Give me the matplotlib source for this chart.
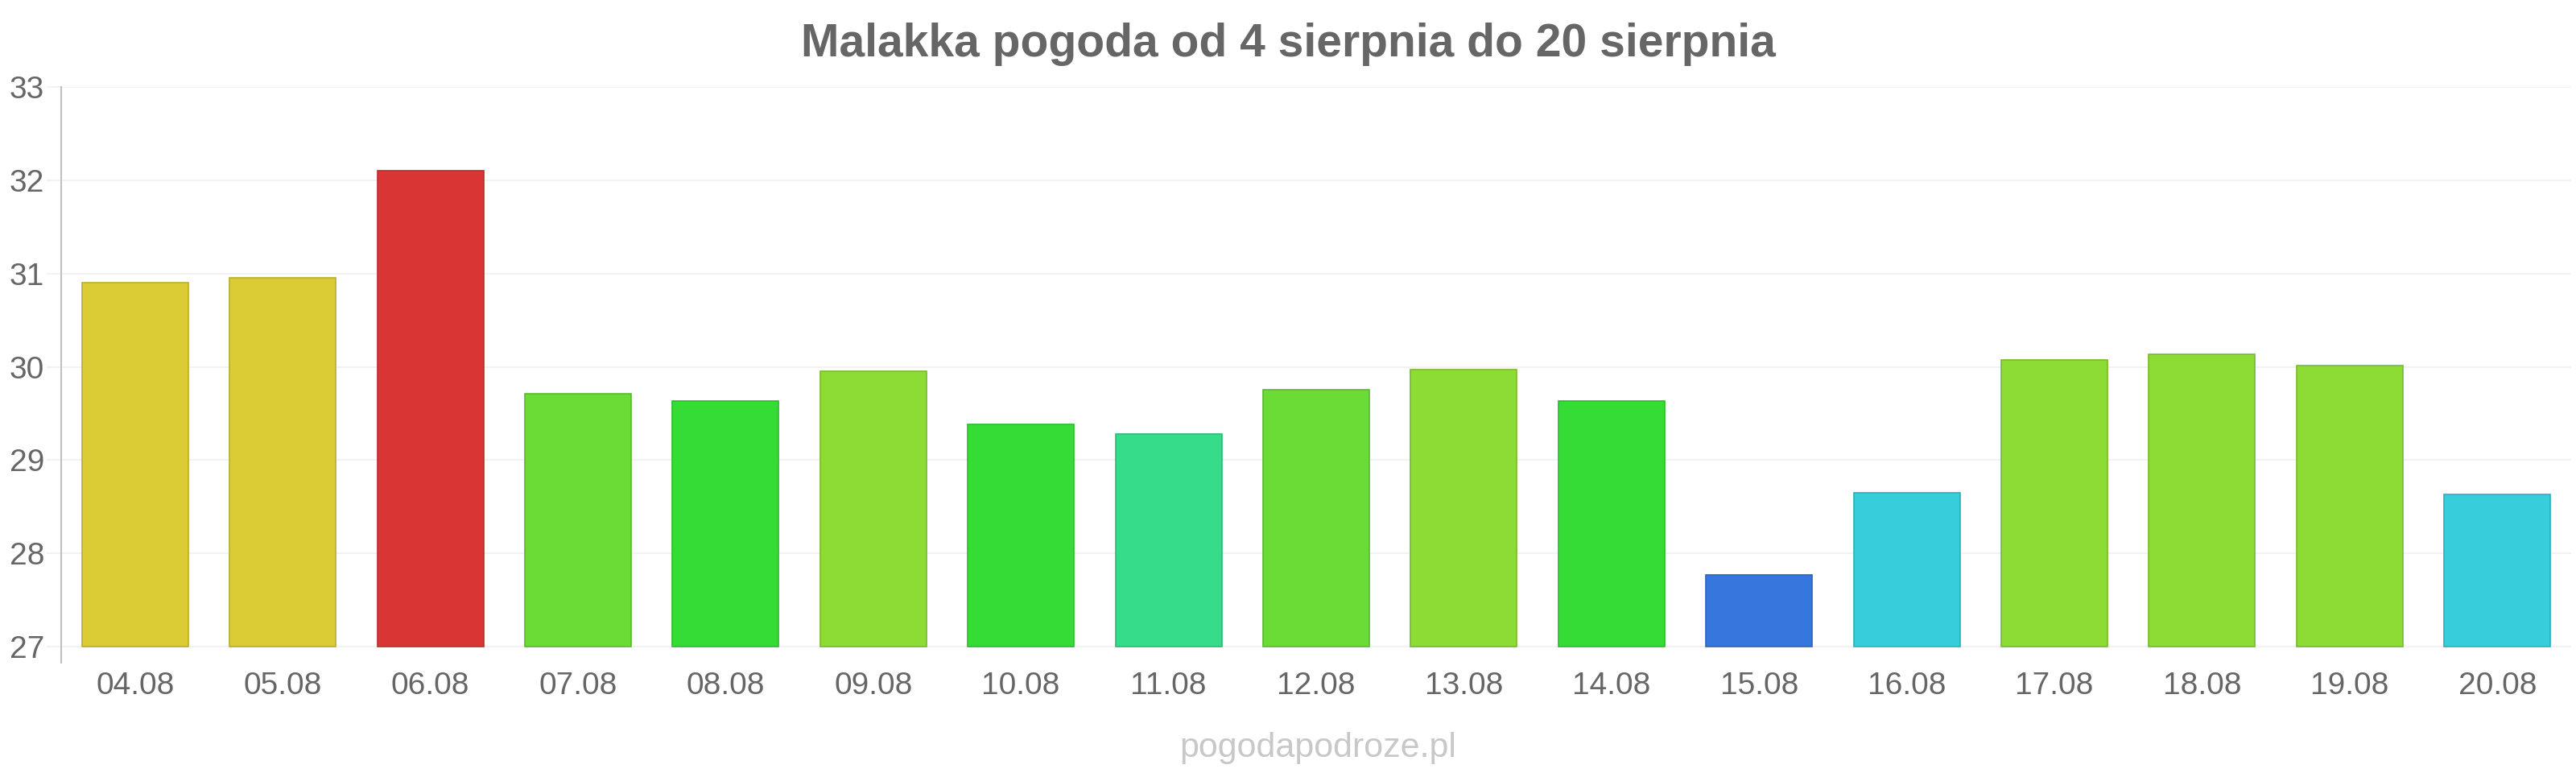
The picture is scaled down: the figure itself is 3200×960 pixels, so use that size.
import matplotlib
matplotlib.use("Agg")
import matplotlib.pyplot as plt
from matplotlib.colors import to_rgb

plt.rcParams['font.family'] = ['Liberation Sans', 'DejaVu Sans']

days = ["04.08", "05.08", "06.08", "07.08", "08.08", "09.08", "10.08", "11.08", "12.08",
        "13.08", "14.08", "15.08", "16.08", "17.08", "18.08", "19.08", "20.08"]
temps = [30.90, 30.95, 32.10, 29.71, 29.63, 29.95, 29.38, 29.28, 29.75,
         29.97, 29.63, 27.77, 28.65, 30.07, 30.13, 30.01, 28.63]
bar_colors = ["#dbcc35", "#dbcc35", "#da3535", "#6adc35", "#35dc35", "#8cdc35", "#35dc35",
              "#36dc8a", "#6adc35", "#8cdc35", "#35dc35", "#3577dc", "#36cedb", "#8cdc35",
              "#8cdc35", "#8cdc35", "#36cedb"]
yticks = [27, 28, 29, 30, 31, 32, 33]
title = "Malakka pogoda od 4 sierpnia do 20 sierpnia"
watermark = "pogodapodroze.pl"

W, H = 3200, 960
fig = plt.figure(figsize=(W / 100, H / 100), dpi=100)
left, right = 76, 3194
top, bottom = 108, 823
ax = fig.add_axes([left / W, 1 - bottom / H, (right - left) / W, (bottom - top) / H])

base = 27
unit = (803 - 108) / 6.0
ymin = base - (bottom - 803) / unit
ax.set_ylim(ymin, 33)
ax.set_xlim(-0.5, len(days) - 0.5)

def darker(c, f=0.85):
    r, g, b = to_rgb(c)
    return (r * f, g * f, b * f)

x = list(range(len(days)))
heights = [t - base for t in temps]
ax.bar(x, heights, bottom=base, width=0.72, color=bar_colors,
       edgecolor=[darker(c) for c in bar_colors], linewidth=1.2, zorder=3)

ax.set_yticks(yticks)
ax.set_yticklabels([str(v) for v in yticks])
ax.set_xticks(x)
ax.set_xticklabels(days)
ax.grid(axis='y', color='#f2f2f2', linewidth=1.5, zorder=0)
ax.grid(axis='x', visible=False)

for s in ['top', 'right', 'bottom']:
    ax.spines[s].set_visible(False)
ax.spines['left'].set_color('#c0c0c0')
ax.spines['left'].set_linewidth(1.5)

ax.tick_params(axis='y', length=13, width=1.5, color='#f2f2f2', pad=2,
               labelsize=28, labelcolor='#666666')
ax.tick_params(axis='x', length=0, pad=8, labelsize=28, labelcolor='#666666')

fig.text(1600 / W, 1 - 55 / H, title, ha='center', va='center',
         fontsize=41, fontweight='bold', color='#666666')
fig.text(1637 / W, 1 - 940 / H, watermark, ha='center', va='baseline',
         fontsize=31, color='#c8c8c8')

fig.savefig("out.png", dpi=100, facecolor='white')
